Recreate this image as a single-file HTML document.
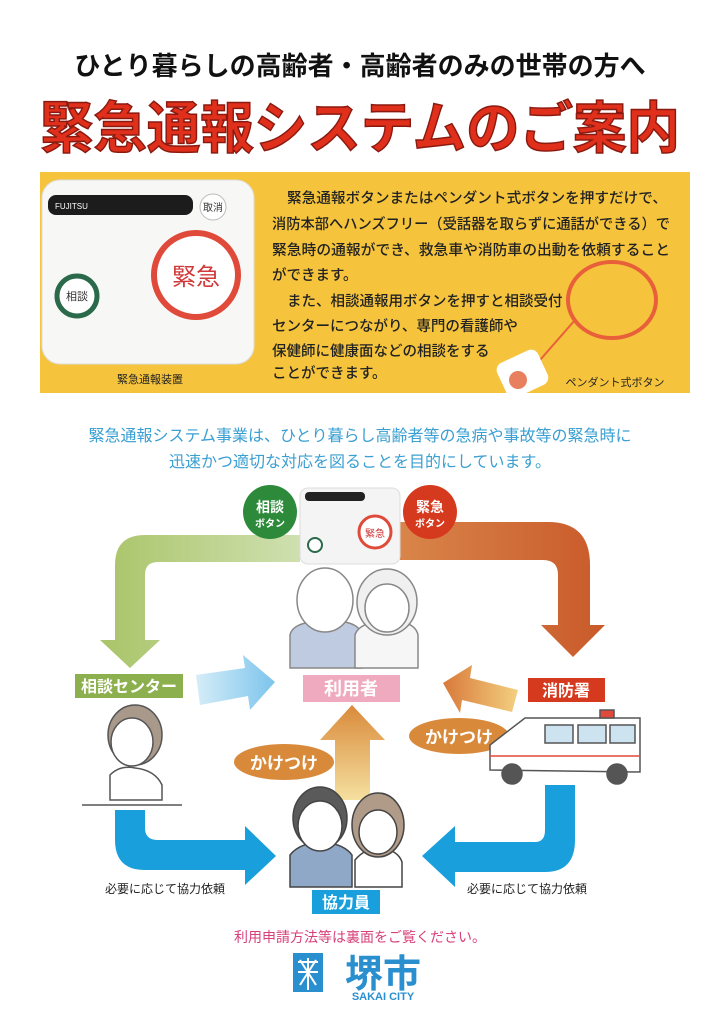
<!DOCTYPE html>
<html><head><meta charset="utf-8"><style>
body{margin:0;width:720px;height:1024px;background:#fff;overflow:hidden;font-family:"Liberation Sans","Noto Sans CJK JP",sans-serif}
svg{display:block}
</style></head><body>
<svg width="720" height="1024" viewBox="0 0 720 1024" xmlns="http://www.w3.org/2000/svg" font-family="Liberation Sans, Noto Sans CJK JP, sans-serif">
<defs>
<linearGradient id="gg" x1="0" x2="1"><stop offset="0" stop-color="#a9c468"/><stop offset="1" stop-color="#cfe0b0"/></linearGradient>
<linearGradient id="og" x1="0" x2="1"><stop offset="0" stop-color="#d9854a"/><stop offset="1" stop-color="#c95a2a"/></linearGradient>
<linearGradient id="lb" x1="0" x2="1"><stop offset="0" stop-color="#d5edf8"/><stop offset="1" stop-color="#7cc4ec"/></linearGradient>
<linearGradient id="ou" x1="0" y1="1" x2="0" y2="0"><stop offset="0" stop-color="#f5e0a0"/><stop offset="1" stop-color="#d98a3a"/></linearGradient>
<linearGradient id="ol" x1="1" x2="0"><stop offset="0" stop-color="#f3d080"/><stop offset="1" stop-color="#d8793a"/></linearGradient>
</defs>
<text x="360" y="75" font-size="26" font-weight="bold" text-anchor="middle" fill="#111">ひとり暮らしの高齢者・高齢者のみの世帯の方へ</text>
<text x="360" y="148" font-size="56" font-weight="bold" text-anchor="middle" fill="#e0301c" stroke="#8a1a10" stroke-width="1.5" textLength="640" lengthAdjust="spacingAndGlyphs">緊急通報システムのご案内</text>
<rect x="40" y="172" width="650" height="221" fill="#f6c43c"/>
<rect x="42" y="180" width="212" height="184" rx="18" fill="#f7f7f5" stroke="#ddd"/>
<rect x="48" y="195" width="145" height="20" rx="8" fill="#1c1c1c"/>
<text x="55" y="209" font-size="8" fill="#fff">FUJITSU</text>
<circle cx="213" cy="207" r="13" fill="#fff" stroke="#bbb"/><text x="213" y="211" font-size="10" text-anchor="middle" fill="#333">取消</text>
<circle cx="196" cy="275" r="42" fill="#fff" stroke="#e04a3a" stroke-width="6"/><text x="196" y="285" font-size="24" text-anchor="middle" fill="#d03a3a">緊急</text>
<circle cx="77" cy="296" r="20" fill="#fff" stroke="#2a6a4a" stroke-width="5"/><text x="77" y="300" font-size="11" text-anchor="middle" fill="#333">相談</text>
<text x="150" y="383" font-size="11" text-anchor="middle" fill="#222">緊急通報装置</text>
<ellipse cx="612" cy="300" rx="44" ry="38" fill="none" stroke="#e8603a" stroke-width="4"/>
<line x1="575" y1="320" x2="540" y2="360" stroke="#e8603a" stroke-width="2"/>
<g font-size="14.5" fill="#222" font-weight="500">
<text x="287" y="203" textLength="380" lengthAdjust="spacingAndGlyphs">緊急通報ボタンまたはペンダント式ボタンを押すだけで、</text>
<text x="272" y="229" textLength="398" lengthAdjust="spacingAndGlyphs">消防本部へハンズフリー（受話器を取らずに通話ができる）で</text>
<text x="272" y="255" textLength="398" lengthAdjust="spacingAndGlyphs">緊急時の通報ができ、救急車や消防車の出動を依頼すること</text>
<text x="272" y="280">ができます。</text>
<text x="287" y="306">また、相談通報用ボタンを押すと相談受付</text>
<text x="272" y="331">センターにつながり、専門の看護師や</text>
<text x="272" y="356">保健師に健康面などの相談をする</text>
<text x="272" y="378">ことができます。</text>
</g>
<rect x="500" y="355" width="45" height="38" rx="8" fill="#fff" transform="rotate(-25 522 374)"/>
<circle cx="518" cy="380" r="9" fill="#e88060"/>
<text x="615" y="386" font-size="11" text-anchor="middle" fill="#222">ペンダント式ボタン</text>
<text x="360" y="441" font-size="16" text-anchor="middle" fill="#3a9fd2">緊急通報システム事業は、ひとり暮らし高齢者等の急病や事故等の緊急時に</text>
<text x="360" y="467" font-size="16" text-anchor="middle" fill="#3a9fd2">迅速かつ適切な対応を図ることを目的にしています。</text>
<path d="M300 535 H145 Q115 535 115 565 V640 H100 L130 668 L160 640 H145 V575 Q145 562 158 562 H300 Z" fill="url(#gg)"/>
<path d="M400 522 H548 Q590 522 590 565 V625 H605 L573 657 L541 625 H558 V575 Q558 560 543 560 H400 Z" fill="url(#og)"/>
<rect x="300" y="488" width="100" height="76" rx="8" fill="#f4f4f4" stroke="#ddd"/>
<rect x="305" y="492" width="60" height="9" rx="4" fill="#222"/>
<circle cx="375" cy="532" r="16" fill="#fff" stroke="#e04a3a" stroke-width="3"/><text x="375" y="537" font-size="10" text-anchor="middle" fill="#c33">緊急</text>
<circle cx="315" cy="545" r="7" fill="#fff" stroke="#2a6a4a" stroke-width="2"/>
<circle cx="270" cy="512" r="27" fill="#2d8a3a"/><text x="270" y="512" font-size="14" font-weight="bold" text-anchor="middle" fill="#fff">相談</text><text x="270" y="527" font-size="10" font-weight="bold" text-anchor="middle" fill="#fff">ボタン</text>
<circle cx="430" cy="512" r="27" fill="#d63a1e"/><text x="430" y="512" font-size="14" font-weight="bold" text-anchor="middle" fill="#fff">緊急</text><text x="430" y="527" font-size="10" font-weight="bold" text-anchor="middle" fill="#fff">ボタン</text>
<g fill="#fff" stroke="#888" stroke-width="1.5">
<path d="M290 668 V635 Q292 625 310 622 H345 Q360 625 362 635 V668 Z" fill="#bfcbe0"/>
<ellipse cx="325" cy="600" rx="28" ry="32"/>
<path d="M355 668 V635 Q358 625 375 622 H402 Q416 625 418 635 V668 Z" fill="#f6f6f6"/>
<ellipse cx="387" cy="602" rx="30" ry="33" fill="#f0f0f0"/>
<ellipse cx="387" cy="608" rx="22" ry="24"/>
</g>
<rect x="75" y="674" width="108" height="24" fill="#8db04e"/><text x="129" y="692" font-size="16" font-weight="bold" text-anchor="middle" fill="#fff">相談センター</text>
<rect x="303" y="675" width="97" height="27" fill="#f0aac0"/><text x="351" y="695" font-size="18" font-weight="bold" text-anchor="middle" fill="#fff">利用者</text>
<rect x="528" y="678" width="77" height="24" fill="#d63a1e"/><text x="566" y="696" font-size="16" font-weight="bold" text-anchor="middle" fill="#fff">消防署</text>
<path d="M196 675 L245 668 L243 655 L275 682 L250 710 L248 696 L200 705 Z" fill="url(#lb)"/>
<path d="M518 690 L470 678 L472 665 L443 683 L460 713 L462 700 L512 712 Z" fill="url(#ol)"/>
<path d="M335 800 V740 H320 L352 705 L385 740 H370 V800 Z" fill="url(#ou)"/>
<ellipse cx="284" cy="762" rx="50" ry="18" fill="#d88a3a"/><text x="284" y="769" font-size="17" font-weight="bold" text-anchor="middle" fill="#fff">かけつけ</text>
<ellipse cx="459" cy="736" rx="50" ry="18" fill="#d88a3a"/><text x="459" y="743" font-size="17" font-weight="bold" text-anchor="middle" fill="#fff">かけつけ</text>
<g stroke="#555" stroke-width="1.5">
<ellipse cx="135" cy="735" rx="27" ry="30" fill="#a8998a"/>
<ellipse cx="132" cy="742" rx="21" ry="24" fill="#fff"/>
<path d="M110 800 V775 Q120 765 135 768 Q155 770 162 785 V800 Z" fill="#fff"/>
<line x1="82" y1="805" x2="182" y2="805"/>
</g>
<g stroke="#555" stroke-width="1.5">
<path d="M490 770 V745 L525 718 H640 V772 Z" fill="#fff"/>
<rect x="600" y="710" width="14" height="8" fill="#e04a3a"/>
<rect x="545" y="725" width="28" height="18" fill="#cde4f0"/><rect x="578" y="725" width="28" height="18" fill="#cde4f0"/><rect x="610" y="725" width="25" height="18" fill="#cde4f0"/>
<line x1="490" y1="756" x2="640" y2="756" stroke="#e04a3a"/>
<circle cx="512" cy="774" r="10" fill="#555"/><circle cx="617" cy="774" r="10" fill="#555"/>
</g>
<path d="M115 810 V840 Q115 870 145 870 H245 V885 L276 856 L245 826 V840 H158 Q145 840 145 828 V810 Z" fill="#19a0dc"/>
<path d="M575 785 V840 Q575 872 545 872 H455 V887 L422 856 L455 826 V842 H535 Q545 842 545 830 V785 Z" fill="#19a0dc"/>
<g stroke="#444" stroke-width="1.5">
<path d="M290 887 V855 Q300 842 325 842 Q345 845 352 855 V887 Z" fill="#8fa8c8"/>
<ellipse cx="320" cy="818" rx="27" ry="31" fill="#5a5a5a"/>
<ellipse cx="320" cy="826" rx="22" ry="25" fill="#fff"/>
<path d="M355 887 V860 Q365 848 380 848 Q398 850 402 862 V887 Z" fill="#fff"/>
<ellipse cx="378" cy="825" rx="26" ry="32" fill="#b09a88"/>
<ellipse cx="378" cy="832" rx="19" ry="22" fill="#fff"/>
</g>
<rect x="312" y="890" width="68" height="24" fill="#19a0dc"/><text x="346" y="908" font-size="16" font-weight="bold" text-anchor="middle" fill="#fff">協力員</text>
<text x="165" y="893" font-size="12" text-anchor="middle" fill="#222">必要に応じて協力依頼</text>
<text x="527" y="893" font-size="12" text-anchor="middle" fill="#222">必要に応じて協力依頼</text>
<text x="360" y="942" font-size="14" text-anchor="middle" fill="#d8407a">利用申請方法等は裏面をご覧ください。</text>
<rect x="293" y="953" width="30" height="39" fill="#2a8fcf"/>
<path d="M298 962 L318 962 M298 972 L318 972 M308 958 V990 M300 985 L316 960 M300 960 L316 985" stroke="#fff" stroke-width="2"/>
<text x="383" y="987" font-size="38" font-weight="bold" text-anchor="middle" fill="#2a8fcf">堺市</text>
<text x="383" y="1000" font-size="11" font-weight="bold" text-anchor="middle" fill="#2a8fcf">SAKAI CITY</text>
</svg>
</body></html>
